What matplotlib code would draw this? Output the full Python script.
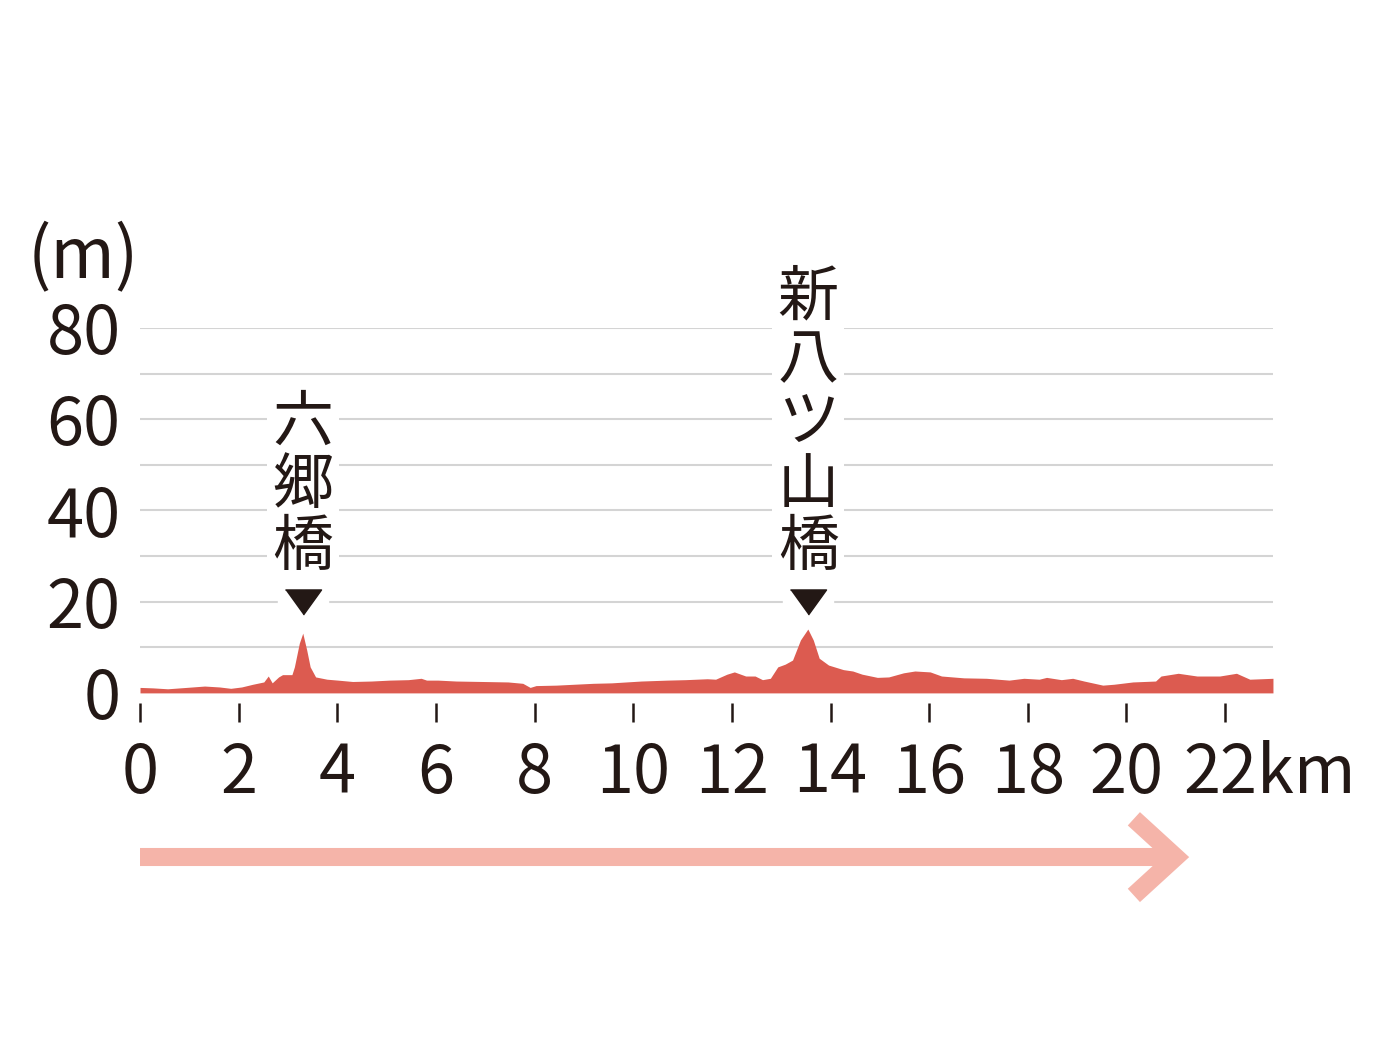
import matplotlib
matplotlib.use("Agg")
import matplotlib.pyplot as plt
from matplotlib.transforms import ScaledTranslation

plt.rcParams['font.family'] = ['Noto Sans CJK JP', 'DejaVu Sans']

# elevation profile (distance km, elevation m)
dist_km = [0.0, 0.26, 0.56, 0.94, 1.31, 1.61, 1.84, 2.06, 2.29, 2.51, 2.6, 2.68, 2.81, 2.89,
           3.08, 3.13, 3.23, 3.3, 3.38, 3.45, 3.56, 3.79, 4.01, 4.31, 4.69, 5.06, 5.44, 5.7,
           5.81, 6.04, 6.41, 6.94, 7.46, 7.76, 7.91, 8.03, 8.44, 8.81, 9.19, 9.56, 10.16,
           10.69, 11.06, 11.5, 11.67, 11.9, 12.05, 12.28, 12.47, 12.62, 12.78, 12.93, 13.08,
           13.23, 13.39, 13.54, 13.65, 13.77, 13.96, 14.26, 14.45, 14.64, 14.95, 15.18, 15.48,
           15.71, 16.02, 16.25, 16.7, 17.16, 17.62, 17.92, 18.23, 18.38, 18.68, 18.91, 19.14,
           19.52, 19.75, 20.13, 20.59, 20.7, 21.05, 21.43, 21.89, 22.23, 22.5, 22.97]
elev_m = [1.2, 1.1, 0.9, 1.2, 1.5, 1.3, 1.0, 1.3, 1.9, 2.4, 3.7, 2.2, 3.5, 4.0,
          4.0, 5.7, 10.9, 13.1, 9.4, 5.7, 3.5, 3.0, 2.8, 2.5, 2.6, 2.8, 2.9, 3.2,
          2.8, 2.8, 2.6, 2.5, 2.4, 2.1, 1.2, 1.6, 1.7, 1.9, 2.1, 2.2, 2.6,
          2.8, 2.9, 3.1, 3.0, 4.1, 4.6, 3.7, 3.7, 2.9, 3.2, 5.7, 6.3,
          7.2, 11.6, 14.0, 11.6, 7.6, 6.1, 5.1, 4.8, 4.1, 3.4, 3.5, 4.4,
          4.8, 4.6, 3.7, 3.3, 3.2, 2.8, 3.2, 3.0, 3.4, 2.9, 3.2, 2.6,
          1.7, 1.9, 2.4, 2.6, 3.7, 4.3, 3.7, 3.7, 4.3, 3.0, 3.2]

x_ticks = [0, 2, 4, 6, 8, 10, 12, 14, 16, 18, 20, 22]
y_ticks = [0, 20, 40, 60, 80]
grid_levels = [10, 20, 30, 40, 50, 60, 70, 80]

bridges = ["六郷橋", "新八ツ山橋"]
bridge_km = [3.3, 13.55]

fill_color = "#dc5b50"
arrow_color = "#f5b4a9"
ink = "#231815"

fig = plt.figure(figsize=(13.86, 10.53), dpi=100)
ax = fig.add_axes([0.10101, 0.34198, 0.8185, 0.34653])
ax.set_xlim(0, 23)
ax.set_ylim(0, 80)

ax.hlines(grid_levels, 0, dist_km[-1], color="#d4d4d4", lw=1.5, zorder=1)
ax.fill_between(dist_km, elev_m, 0, color=fill_color, lw=0, zorder=2)

for s in ax.spines.values():
    s.set_visible(False)
ax.spines['bottom'].set_position(('outward', 7.5))

ax.set_xticks(x_ticks)
ax.set_xticklabels([str(v) for v in x_ticks[:-1]] + ["22km"])
ax.set_yticks(y_ticks)
ax.set_yticklabels([str(v) for v in y_ticks])
ax.tick_params(axis='x', length=13.5, width=1.8, color=ink, labelsize=48, pad=13, labelcolor=ink)
ax.tick_params(axis='y', length=0, labelsize=48, pad=14, labelcolor=ink)

# "22km": shift the last label so that "22" sits on its tick
lab = ax.get_xticklabels()[-1]
lab.set_transform(lab.get_transform() + ScaledTranslation(0.45, 0, fig.dpi_scale_trans))

fig.text(83 / 1386, 1 - 259 / 1053, "(m)", fontsize=50, ha='center', va='center', color=ink)

# bridge markers and vertical labels
tri = [(-18, 12.5), (18, 12.5), (0, -12.5)]
for name, km in zip(bridges, bridge_km):
    ax.plot(km, 20, marker='s', ms=36, color='white', zorder=3, clip_on=False)
    ax.plot(km, 20, marker=tri, ms=26, color=ink, zorder=4, clip_on=False)
    ax.annotate("\n".join(name), xy=(km, 20), xytext=(0, 16), textcoords='offset points',
                ha='center', va='bottom', fontsize=44, color=ink, linespacing=1.0,
                bbox=dict(fc='white', ec='none', pad=4), zorder=3, annotation_clip=False)

# direction arrow under the axis
ay = -36
ax.plot([0, 21.0], [ay, ay], color=arrow_color, lw=13, solid_capstyle='butt', clip_on=False)
ax.plot([20.15, 21.0, 20.15], [ay + 8.4, ay, ay - 8.4], color=arrow_color, lw=13,
        solid_capstyle='butt', solid_joinstyle='miter', clip_on=False)

fig.savefig("out.png", dpi=100, facecolor='white')
